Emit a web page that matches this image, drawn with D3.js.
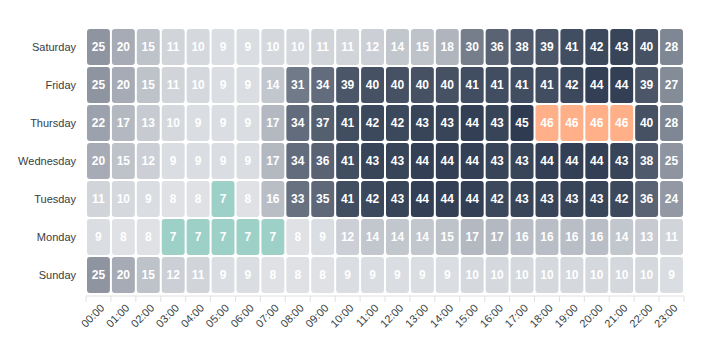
<!DOCTYPE html>
<html lang="en">
  <head>
    <meta charset="UTF-8" />
    <title>Heatmap</title>
    <script src="https://d3js.org/d3.v7.min.js"></script>
    <style>
      body { margin: 0; background: #fff; }
      text { font-family: "Liberation Sans", Arial, sans-serif; }
    </style>
  </head>
  <body>
    <svg width="704" height="350" id="chart"></svg>

    <script>
      // Hours along the bottom, days up the side (bottom row first)
      const hours = ["00:00", "01:00", "02:00", "03:00", "04:00", "05:00", "06:00", "07:00",
        "08:00", "09:00", "10:00", "11:00", "12:00", "13:00", "14:00", "15:00",
        "16:00", "17:00", "18:00", "19:00", "20:00", "21:00", "22:00", "23:00"];
      const days = ["Sunday", "Monday", "Tuesday", "Wednesday", "Thursday", "Friday", "Saturday"];

      const sunday = [25, 20, 15, 12, 11, 9, 9, 8, 8, 8, 9, 9, 9, 9, 9, 10, 10, 10, 10, 10, 10, 10, 10, 9];
      const monday = [9, 8, 8, 7, 7, 7, 7, 7, 8, 9, 12, 14, 14, 14, 15, 17, 17, 16, 16, 16, 16, 14, 13, 11];
      const tuesday = [11, 10, 9, 8, 8, 7, 8, 16, 33, 35, 41, 42, 43, 44, 44, 44, 42, 43, 43, 43, 43, 42, 36, 24];
      const wednesday = [20, 15, 12, 9, 9, 9, 9, 17, 34, 36, 41, 43, 43, 44, 44, 44, 43, 43, 44, 44, 44, 43, 38, 25];
      const thursday = [22, 17, 13, 10, 9, 9, 9, 17, 34, 37, 41, 42, 42, 43, 43, 44, 43, 45, 46, 46, 46, 46, 40, 28];
      const friday = [25, 20, 15, 11, 10, 9, 9, 14, 31, 34, 39, 40, 40, 40, 40, 41, 41, 41, 41, 42, 44, 44, 39, 27];
      const saturday = [25, 20, 15, 11, 10, 9, 9, 10, 10, 11, 11, 12, 14, 15, 18, 30, 36, 38, 39, 41, 42, 43, 40, 28];

      const rows = [sunday, monday, tuesday, wednesday, thursday, friday, saturday];

      const cells = [];
      rows.forEach((vals, i) => {
        vals.forEach((v, j) => cells.push({ day: days[i], hour: hours[j], value: v }));
      });

      const svg = d3.select("#chart");
      const margin = { top: 28, right: 20, bottom: 56, left: 86 };
      const width = 598;
      const height = 266;
      const g = svg.append("g")
        .attr("transform", "translate(" + margin.left + "," + margin.top + ")");

      const x = d3.scaleBand().domain(hours).range([0, width]);
      const y = d3.scaleBand().domain(days.slice().reverse()).range([0, height]);

      const minV = d3.min(cells, d => d.value);
      const maxV = d3.max(cells, d => d.value);
      const shade = d3.scaleLinear().domain([8, 45]).range(["#dfe1e5", "#2e3b50"]).clamp(true);
      const color = v => v === minV ? "#9dd0c7" : v === maxV ? "#ffb088" : shade(v);

      // axis line + ticks
      g.append("line")
        .attr("x1", 0).attr("x2", width)
        .attr("y1", height + 2).attr("y2", height + 2)
        .attr("stroke", "#e0e0e0");
      g.selectAll(".tick-mark")
        .data(hours.concat(["end"]))
        .join("line")
        .attr("x1", (d, i) => i * x.step())
        .attr("x2", (d, i) => i * x.step())
        .attr("y1", height + 2).attr("y2", height + 8)
        .attr("stroke", "#e0e0e0");

      g.selectAll("rect.cell")
        .data(cells)
        .join("rect")
        .attr("class", "cell")
        .attr("x", d => x(d.hour) + 1)
        .attr("y", d => y(d.day) + 1)
        .attr("width", x.bandwidth() - 2)
        .attr("height", y.bandwidth() - 2)
        .attr("rx", 3)
        .attr("fill", d => color(d.value));

      g.selectAll("text.val")
        .data(cells)
        .join("text")
        .attr("class", "val")
        .attr("x", d => x(d.hour) + x.bandwidth() / 2)
        .attr("y", d => y(d.day) + y.bandwidth() / 2)
        .attr("dy", "0.35em")
        .attr("text-anchor", "middle")
        .attr("fill", "#fff")
        .attr("font-size", 12)
        .attr("font-weight", "bold")
        .text(d => d.value);

      // y labels
      g.selectAll("text.day")
        .data(days)
        .join("text")
        .attr("class", "day")
        .attr("x", -10)
        .attr("y", d => y(d) + y.bandwidth() / 2)
        .attr("dy", "0.35em")
        .attr("text-anchor", "end")
        .attr("fill", "#373d3f")
        .attr("font-size", 11)
        .text(d => d);

      // x labels, rotated
      g.selectAll("text.hour")
        .data(hours)
        .join("text")
        .attr("class", "hour")
        .attr("transform", d => "translate(" + (x(d) + x.bandwidth() / 2 + 4) + "," + (height + 12) + ") rotate(-45)")
        .attr("text-anchor", "end")
        .attr("dy", "0.35em")
        .attr("fill", "#373d3f")
        .attr("font-size", 11)
        .text(d => d);
    </script>
  </body>
</html>
